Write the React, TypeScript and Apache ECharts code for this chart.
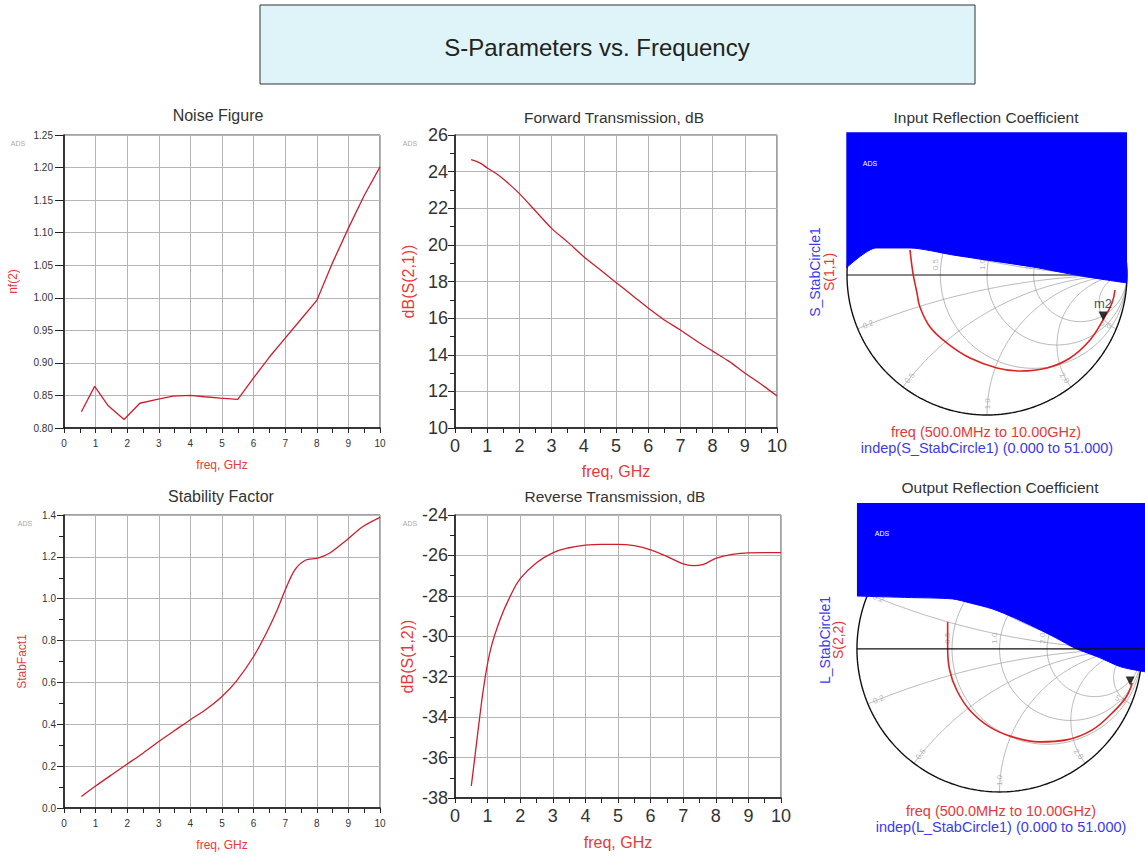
import React, { useEffect, useRef } from "react";
import * as echarts from "echarts";

// ---------------- data ----------------
// Noise Figure: nf(2) vs freq (GHz)
const nfFreq = [0.55, 0.97, 1.4, 1.9, 2.4, 2.95, 3.45, 4.0, 4.45, 4.95, 5.5, 6.0, 6.5, 7.0, 7.5, 8.0, 8.5, 9.0, 9.5, 10.0];
const nfValue = [0.825, 0.864, 0.834, 0.813, 0.838, 0.844, 0.849, 0.85, 0.848, 0.846, 0.844, 0.877, 0.909, 0.938, 0.967, 0.996, 1.054, 1.107, 1.157, 1.201];

// Forward transmission dB(S(2,1))
const s21Freq = [0.5, 0.8, 1.0, 1.3, 1.6, 2.0, 2.5, 3.0, 3.5, 4.0, 4.5, 5.0, 5.5, 6.0, 6.5, 7.0, 7.5, 8.0, 8.5, 9.0, 9.5, 10.0];
const s21dB = [24.65, 24.45, 24.2, 23.87, 23.45, 22.8, 21.85, 20.9, 20.15, 19.35, 18.65, 17.95, 17.25, 16.55, 15.9, 15.35, 14.75, 14.2, 13.65, 13.0, 12.4, 11.75];

// Stability factor StabFact1
const kFreq = [0.55, 1.0, 1.5, 2.0, 2.5, 3.0, 3.5, 4.0, 4.5, 5.0, 5.45, 6.0, 6.4, 6.75, 7.0, 7.3, 7.65, 8.0, 8.4, 8.95, 9.45, 10.0];
const kValue = [0.055, 0.105, 0.158, 0.21, 0.262, 0.318, 0.37, 0.422, 0.472, 0.533, 0.605, 0.724, 0.835, 0.947, 1.042, 1.137, 1.185, 1.193, 1.217, 1.281, 1.344, 1.389];

// Reverse transmission dB(S(1,2))
const s12Freq = [0.5, 0.6, 0.75, 0.9, 1.1, 1.4, 1.7, 2.0, 2.5, 3.0, 3.5, 4.0, 4.5, 5.0, 5.5, 6.0, 6.5, 7.0, 7.3, 7.6, 8.0, 8.5, 9.0, 9.5, 10.0];
const s12dB = [-37.4, -36.1, -34.1, -32.3, -30.6, -29.1, -28.0, -27.15, -26.36, -25.87, -25.62, -25.49, -25.45, -25.45, -25.52, -25.72, -26.05, -26.42, -26.5, -26.45, -26.15, -25.95, -25.87, -25.86, -25.86];

// Input reflection S(1,1) (real / imaginary of reflection coefficient)
const s11Re = [-0.55, -0.529, -0.5, -0.479, -0.407, -0.286, -0.121, 0.071, 0.236, 0.429, 0.593, 0.736, 0.829, 0.893, 0.914];
const s11Im = [0.179, 0.014, -0.129, -0.229, -0.371, -0.486, -0.593, -0.664, -0.686, -0.664, -0.593, -0.464, -0.321, -0.2, -0.107];
const m2In = [0.829, -0.293];

// Source stability circle boundary (unstable region above, filled)
const sStabRe = [-1.005, -0.793, -0.55, -0.243, 0.043, 0.329, 0.521, 0.714, 1.0];
const sStabIm = [0.05, 0.193, 0.193, 0.143, 0.1, 0.057, 0.021, -0.014, -0.057];

// Output reflection S(2,2)
const s22Re = [-0.364, -0.364, -0.35, -0.301, -0.21, -0.07, 0.091, 0.28, 0.469, 0.65, 0.79, 0.888, 0.93];
const s22Im = [0.189, 0.007, -0.147, -0.287, -0.427, -0.545, -0.615, -0.65, -0.636, -0.566, -0.448, -0.336, -0.238];
const m2Out = [0.916, -0.224];

// Load stability circle boundary
const lStabRe = [-1.0, -0.65, -0.33, -0.2, -0.05, 0.1, 0.25, 0.4, 0.53, 0.7, 0.85, 1.02];
const lStabIm = [0.37, 0.36, 0.35, 0.32, 0.28, 0.22, 0.15, 0.075, 0.005, -0.06, -0.125, -0.16];

// Smith chart grid values
const smithResistances = [0.5, 1, 2];
const smithReactances = [0.2, 0.5, 1, 2, 5];

// ---------------- styling ----------------
const FONT = "'Liberation Sans', Arial, Helvetica, sans-serif";
const RED_LINE = "#cc1f2e";
const RED_TEXT = "#e63a3a";
const BLUE = "#0000ff";
const BLUE_TEXT = "#3a3aee";
const GRID_GRAY = "#b5b5b5";
const SMITH_GRAY = "#a6a6a6";

const pairs = (xs: number[], ys: number[]) => xs.map((x, i) => [x, ys[i]]);

function arc(cx: number, cy: number, r: number, a0: number, a1: number, n = 140) {
  const pts: number[][] = [];
  for (let i = 0; i <= n; i++) {
    const a = a0 + ((a1 - a0) * i) / n;
    pts.push([cx + r * Math.cos(a), cy + r * Math.sin(a)]);
  }
  return pts;
}

function smithGridCurves() {
  const curves: number[][][] = [];
  for (const r of smithResistances) curves.push(arc(r / (1 + r), 0, 1 / (1 + r), 0, 2 * Math.PI, 180));
  for (const x of smithReactances) {
    const ext = 2 * Math.atan(x);
    curves.push(arc(1, 1 / x, 1 / x, -Math.PI / 2, -Math.PI / 2 - ext));
    curves.push(arc(1, -1 / x, 1 / x, Math.PI / 2, Math.PI / 2 + ext));
  }
  return curves;
}

function smithLabels() {
  const items: any[] = [];
  for (const r of smithResistances) {
    items.push({ name: r.toFixed(1), value: [(r - 1) / (r + 1) - 0.035, 0.075], label: { rotate: 90 } });
  }
  for (const x of smithReactances) {
    const th = Math.PI - 2 * Math.atan(x);
    for (const s of [1, -1]) {
      const a = s * th;
      let rot = (a * 180) / Math.PI;
      if (rot > 90) rot -= 180;
      if (rot <= -90) rot += 180;
      items.push({ name: x.toFixed(1), value: [0.92 * Math.cos(a), 0.92 * Math.sin(a)], label: { rotate: rot } });
    }
  }
  return items;
}

function smithSeries(idx: number, cRe: number[], cIm: number[], bRe: number[], bIm: number[], marker: number[], lineRight: number, lineOnTop: boolean, markerLabel: boolean) {
  const base = { xAxisIndex: idx, yAxisIndex: idx, silent: true, animation: false };
  const out: any[] = [];
  smithGridCurves().forEach((pts) => {
    out.push({ ...base, type: "line", data: pts, symbol: "none", z: 1, lineStyle: { color: SMITH_GRAY, width: 0.8 } });
  });
  out.push({
    ...base, type: "scatter", data: smithLabels(), symbolSize: 0, z: 1,
    label: { show: true, formatter: (p: any) => p.name, color: "#a0a0a0", fontSize: 8, fontFamily: FONT },
  });
  out.push({ ...base, type: "line", data: arc(0, 0, 1, 0, 2 * Math.PI, 240), symbol: "none", z: 3, lineStyle: { color: "#111", width: 1.4 } });
  out.push({ ...base, type: "line", data: [[-1, 0], [lineRight, 0]], symbol: "none", z: lineOnTop ? 7 : 2, lineStyle: { color: "#111", width: 1.2 } });
  out.push({ ...base, type: "line", data: pairs(cRe, cIm), symbol: "none", smooth: 0.4, z: 4, lineStyle: { color: "#dd2222", width: 1.6 } });
  out.push({
    ...base, type: "scatter", data: [marker], symbol: "triangle", symbolRotate: 180, symbolSize: 9, z: 5,
    itemStyle: { color: "#000" },
    label: { show: markerLabel, formatter: "m2", position: "top", distance: 2, color: "#222", fontSize: 13, fontFamily: FONT },
  });
  out.push({
    ...base, type: "line", data: pairs(bRe, bIm), symbol: "none", smooth: 0.25, z: 6,
    lineStyle: { color: BLUE, width: 1 },
    areaStyle: { color: BLUE, opacity: 1, origin: "end" },
  });
  return out;
}

function rectX(gridIndex: number, fontSize: number, margin: number, nameSize: number, nameGap: number) {
  return {
    type: "value", gridIndex, min: 0, max: 10, interval: 1,
    name: "freq, GHz", nameLocation: "middle", nameGap,
    nameTextStyle: { color: RED_TEXT, fontSize: nameSize, fontFamily: FONT },
    axisLine: { show: true, onZero: false, lineStyle: { color: "#111", width: 1.5 } },
    axisTick: { show: true, length: 5, lineStyle: { color: "#222" } },
    minorTick: { show: true, splitNumber: 2, length: 5, lineStyle: { color: "#222" } },
    splitLine: { show: true, lineStyle: { color: GRID_GRAY, width: 1 } },
    axisLabel: { fontSize, color: "#333", margin, fontFamily: FONT },
  };
}

function rectY(gridIndex: number, min: number, max: number, interval: number, digits: number, fontSize: number, tickLen: number, minor: boolean, margin: number, name: string, nameSize: number, nameGap: number) {
  return {
    type: "value", gridIndex, min, max, interval,
    name, nameLocation: "middle", nameGap,
    nameTextStyle: { color: RED_TEXT, fontSize: nameSize, fontFamily: FONT },
    axisLine: { show: true, onZero: false, lineStyle: { color: "#111", width: 1.5 } },
    axisTick: { show: true, length: tickLen, lineStyle: { color: "#222" } },
    minorTick: { show: minor, splitNumber: 2, length: 5, lineStyle: { color: "#222" } },
    splitLine: { show: true, lineStyle: { color: GRID_GRAY, width: 1 } },
    axisLabel: { fontSize, color: "#333", margin, fontFamily: FONT, formatter: (v: number) => v.toFixed(digits) },
  };
}

function txt(text: string, x: number, y: number, fontSize: number, fill: string, rotation = 0) {
  return {
    type: "text", x, y, rotation, z: 100,
    style: { text, fontSize, fontFamily: FONT, fill, align: "center", verticalAlign: "middle", textAlign: "center", textVerticalAlign: "middle" },
  };
}

function buildOption(): any {
  const smithAxis = (gridIndex: number) => ({ type: "value", gridIndex, min: -1.02, max: 1.02, show: false, splitLine: { show: false } });
  const rectLine = (idx: number, data: number[][], smooth: number | boolean) => ({
    type: "line", xAxisIndex: idx, yAxisIndex: idx, data, symbol: "none", smooth,
    lineStyle: { color: RED_LINE, width: 1.3 }, z: 3,
  });
  return {
    animation: false,
    backgroundColor: "#ffffff",
    textStyle: { fontFamily: FONT },
    grid: [
      { left: 64, top: 135, width: 316, height: 293, show: true, borderColor: "#444", borderWidth: 1 },
      { left: 455, top: 135, width: 322, height: 293, show: true, borderColor: "#444", borderWidth: 1 },
      { left: 64, top: 515, width: 316, height: 293, show: true, borderColor: "#444", borderWidth: 1 },
      { left: 455, top: 515, width: 326, height: 283, show: true, borderColor: "#444", borderWidth: 1 },
      { left: 844.2, top: 132.2, width: 285.6, height: 285.6 },
      { left: 854.1, top: 503.1, width: 291.7, height: 291.7 },
    ],
    xAxis: [
      rectX(0, 10, 10, 12, 31),
      rectX(1, 18, 9, 16, 35),
      rectX(2, 10, 10, 12, 31),
      rectX(3, 18, 9, 16, 36),
      smithAxis(4),
      smithAxis(5),
    ],
    yAxis: [
      rectY(0, 0.8, 1.25, 0.05, 2, 10, 9, false, 11, "nf(2)", 12, 45),
      rectY(1, 10, 26, 2, 0, 18, 7, true, 7, "dB(S(2,1))", 16, 39),
      rectY(2, 0, 1.4, 0.2, 1, 10, 7, true, 8, "StabFact1", 12, 36),
      rectY(3, -38, -24, 2, 0, 18, 7, true, 7, "dB(S(1,2))", 16, 40),
      smithAxis(4),
      smithAxis(5),
    ],
    series: [
      rectLine(0, pairs(nfFreq, nfValue), false),
      rectLine(1, pairs(s21Freq, s21dB), 0.3),
      rectLine(2, pairs(kFreq, kValue), 0.3),
      rectLine(3, pairs(s12Freq, s12dB), 0.4),
      ...smithSeries(4, s11Re, s11Im, sStabRe, sStabIm, m2In, 1, false, true),
      ...smithSeries(5, s22Re, s22Im, lStabRe, lStabIm, m2Out, 1.02, true, false),
    ],
    graphic: [
      { type: "rect", z: 90, shape: { x: 260, y: 5, width: 715, height: 79 }, style: { fill: "#def4f8", stroke: "#333", lineWidth: 1 } },
      txt("S-Parameters vs. Frequency", 597, 47, 24, "#222"),
      txt("Noise Figure", 218, 115, 16, "#333"),
      txt("Forward Transmission, dB", 614, 117, 15.5, "#333"),
      txt("Input Reflection Coefficient", 986, 117, 15.5, "#333"),
      txt("Stability Factor", 221, 496, 16, "#333"),
      txt("Reverse Transmission, dB", 615, 496, 15.5, "#333"),
      txt("Output Reflection Coefficient", 1000, 487, 15.5, "#333"),
      txt("ADS", 18, 143, 7, "#aaa"),
      txt("ADS", 410, 143, 7, "#aaa"),
      txt("ADS", 25, 523, 7, "#aaa"),
      txt("ADS", 410, 523, 7, "#aaa"),
      txt("ADS", 870, 163, 7, "#ffffff"),
      txt("ADS", 882, 533, 7, "#ffffff"),
      txt("S_StabCircle1", 815, 272, 14, BLUE_TEXT, Math.PI / 2),
      txt("S(1,1)", 829, 272, 14, RED_TEXT, Math.PI / 2),
      txt("L_StabCircle1", 825, 640, 14, BLUE_TEXT, Math.PI / 2),
      txt("S(2,2)", 838, 640, 14, RED_TEXT, Math.PI / 2),
      txt("freq (500.0MHz to 10.00GHz)", 986, 432, 14.5, RED_TEXT),
      txt("indep(S_StabCircle1) (0.000 to 51.000)", 987, 448, 14.5, BLUE_TEXT),
      txt("freq (500.0MHz to 10.00GHz)", 1001, 811, 14.5, RED_TEXT),
      txt("indep(L_StabCircle1) (0.000 to 51.000)", 1001, 827, 14.5, BLUE_TEXT),
    ],
  };
}

export default function App() {
  const ref = useRef<HTMLDivElement>(null);
  useEffect(() => {
    if (!ref.current) return;
    const chart = echarts.init(ref.current, null, { renderer: "svg" });
    chart.setOption(buildOption());
    return () => chart.dispose();
  }, []);
  return <div ref={ref} style={{ position: "fixed", left: 0, top: 0, width: 1145, height: 856, background: "#fff" }} />;
}
